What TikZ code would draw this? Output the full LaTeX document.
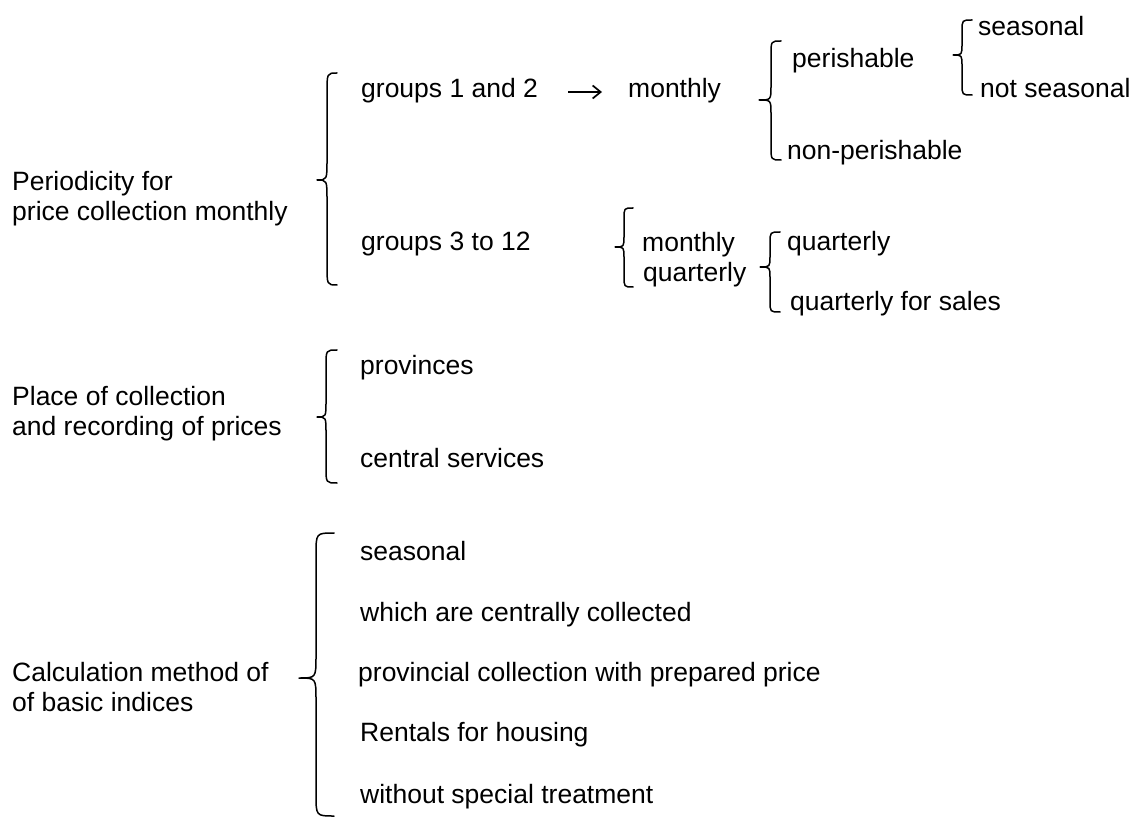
\documentclass[tikz,border=0pt]{standalone}
\usepackage{fontspec}
\setmainfont{Liberation Sans}
\usetikzlibrary{arrows.meta}

% curly brace opening to the right:
% #1 hook x, #2 spine x, #3 tip x, #4 top y, #5 tip y, #6 bottom y, #7 curve radius
\newcommand\cbrace[7]{%
  \draw[bracestyle] (#1,#4) .. controls (#2,#4) .. (#2,{#4+#7})
    -- (#2,{#5-#7}) .. controls (#2,#5) .. (#3,#5)
    .. controls (#2,#5) .. (#2,{#5+#7})
    -- (#2,{#6-#7}) .. controls (#2,#6) .. (#1,#6);}

\begin{document}
\begin{tikzpicture}[x=1pt,y=-1pt,
  lbl/.style={anchor=base west,inner sep=0pt,font=\fontsize{26.5}{30}\selectfont},
  bracestyle/.style={line width=1.5pt,line cap=round,line join=round},
  arr/.style={line width=1.7pt,-{Straight Barb[length=8pt,width=13pt,line width=1.7pt]}}]
\useasboundingbox (0,0) rectangle (1133,818);

% --- periodicity of price collection
\node[lbl] (per1) at (12,191) {Periodicity for};
\node[lbl] (per2) at (12,221) {price collection monthly};
\cbrace{337}{327}{317}{73}{180}{285}{20}

\node[lbl] (g12) at (361,98) {groups 1 and 2};
\node[lbl] (m1) at (628,98) {monthly};
\draw[arr,shorten <=30pt,shorten >=26pt] (g12.east |- 0,92) -- (m1.west |- 0,92);

\cbrace{781}{771}{759}{41}{100}{160}{14}
\node[lbl] (per) at (792,68) {perishable};
\node[lbl] (nonp) at (787,160) {non-perishable};

\cbrace{972}{962}{953}{20}{55}{95}{11}
\node[lbl] (seas1) at (978,36) {seasonal};
\node[lbl] (nseas) at (980,98) {not seasonal};

\node[lbl] (g312) at (361,251) {groups 3 to 12};
\cbrace{633}{624}{615}{208}{247}{287}{11}
\node[lbl] (m2) at (642,252) {monthly};
\node[lbl] (q2) at (643,282) {quarterly};

\cbrace{780}{770}{760}{232}{267}{312}{11}
\node[lbl] (q3) at (787,251) {quarterly};
\node[lbl] (qs) at (790,311) {quarterly for sales};

% --- place of collection
\node[lbl] (pl1) at (12,405) {Place of collection};
\node[lbl] (pl2) at (12,435) {and recording of prices};
\cbrace{337}{326}{317}{350}{417}{483}{16}
\node[lbl] (prov) at (360,374) {provinces};
\node[lbl] (cent) at (360,467) {central services};

% --- calculation method
\node[lbl] (calc1) at (12,681) {Calculation method of};
\node[lbl] (calc2) at (12,711) {of basic indices};
\cbrace{334}{316}{299}{533}{678}{816}{22}
\node[lbl] (c1) at (360,560) {seasonal};
\node[lbl] (c2) at (360,621) {which are centrally collected};
\node[lbl] (c3) at (358,681) {provincial collection with prepared price};
\node[lbl] (c4) at (360,741) {Rentals for housing};
\node[lbl] (c5) at (360,803) {without special treatment};
\end{tikzpicture}
\end{document}
